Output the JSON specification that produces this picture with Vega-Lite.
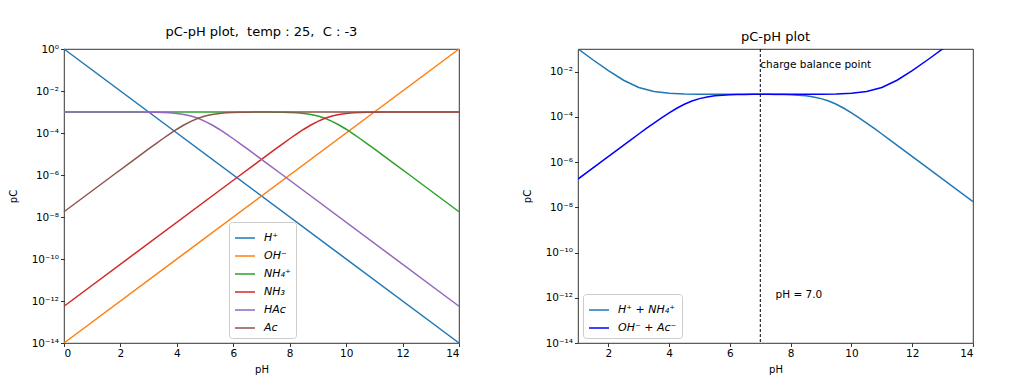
{
  "$schema": "https://vega.github.io/schema/vega-lite/v6.json",
  "background": "white",
  "padding": {"left": 7, "top": 25, "right": 5, "bottom": 5},
  "spacing": 58,
  "datasets": {
    "left": [
      {"pH": 0, "s": "H⁺", "c": 1}, {"pH": 14, "s": "H⁺", "c": 1e-14},
      {"pH": 0, "s": "OH⁻", "c": 1e-14}, {"pH": 14, "s": "OH⁻", "c": 1},
      {"pH": 0, "s": "NH₄⁺", "c": 1e-3}, {"pH": 6.25, "s": "NH₄⁺", "c": 9.990e-4}, {"pH": 6.75, "s": "NH₄⁺", "c": 9.968e-4}, {"pH": 7.25, "s": "NH₄⁺", "c": 9.901e-4}, {"pH": 7.5, "s": "NH₄⁺", "c": 9.825e-4}, {"pH": 7.75, "s": "NH₄⁺", "c": 9.693e-4}, {"pH": 8, "s": "NH₄⁺", "c": 9.468e-4}, {"pH": 8.25, "s": "NH₄⁺", "c": 9.091e-4}, {"pH": 8.5, "s": "NH₄⁺", "c": 8.500e-4}, {"pH": 8.75, "s": "NH₄⁺", "c": 7.597e-4}, {"pH": 9, "s": "NH₄⁺", "c": 6.401e-4}, {"pH": 9.25, "s": "NH₄⁺", "c": 5e-4}, {"pH": 9.5, "s": "NH₄⁺", "c": 3.599e-4}, {"pH": 9.75, "s": "NH₄⁺", "c": 2.403e-4}, {"pH": 10, "s": "NH₄⁺", "c": 1.510e-4}, {"pH": 10.25, "s": "NH₄⁺", "c": 9.091e-5}, {"pH": 10.5, "s": "NH₄⁺", "c": 5.324e-5}, {"pH": 10.75, "s": "NH₄⁺", "c": 3.065e-5}, {"pH": 11, "s": "NH₄⁺", "c": 1.747e-5}, {"pH": 11.25, "s": "NH₄⁺", "c": 9.901e-6}, {"pH": 11.75, "s": "NH₄⁺", "c": 3.152e-6}, {"pH": 12.25, "s": "NH₄⁺", "c": 9.990e-7}, {"pH": 14, "s": "NH₄⁺", "c": 1.778e-8},
      {"pH": 0, "s": "NH₃", "c": 5.623e-13}, {"pH": 6.25, "s": "NH₃", "c": 9.990e-7}, {"pH": 6.75, "s": "NH₃", "c": 3.152e-6}, {"pH": 7.25, "s": "NH₃", "c": 9.901e-6}, {"pH": 7.5, "s": "NH₃", "c": 1.747e-5}, {"pH": 7.75, "s": "NH₃", "c": 3.065e-5}, {"pH": 8, "s": "NH₃", "c": 5.324e-5}, {"pH": 8.25, "s": "NH₃", "c": 9.091e-5}, {"pH": 8.5, "s": "NH₃", "c": 1.510e-4}, {"pH": 8.75, "s": "NH₃", "c": 2.403e-4}, {"pH": 9, "s": "NH₃", "c": 3.599e-4}, {"pH": 9.25, "s": "NH₃", "c": 5e-4}, {"pH": 9.5, "s": "NH₃", "c": 6.401e-4}, {"pH": 9.75, "s": "NH₃", "c": 7.597e-4}, {"pH": 10, "s": "NH₃", "c": 8.500e-4}, {"pH": 10.25, "s": "NH₃", "c": 9.091e-4}, {"pH": 10.5, "s": "NH₃", "c": 9.468e-4}, {"pH": 10.75, "s": "NH₃", "c": 9.693e-4}, {"pH": 11, "s": "NH₃", "c": 9.825e-4}, {"pH": 11.25, "s": "NH₃", "c": 9.901e-4}, {"pH": 11.75, "s": "NH₃", "c": 9.968e-4}, {"pH": 12.25, "s": "NH₃", "c": 9.990e-4}, {"pH": 14, "s": "NH₃", "c": 1e-3},
      {"pH": 0, "s": "HAc", "c": 1e-3}, {"pH": 1.75, "s": "HAc", "c": 9.990e-4}, {"pH": 2.25, "s": "HAc", "c": 9.968e-4}, {"pH": 2.75, "s": "HAc", "c": 9.901e-4}, {"pH": 3, "s": "HAc", "c": 9.825e-4}, {"pH": 3.25, "s": "HAc", "c": 9.693e-4}, {"pH": 3.5, "s": "HAc", "c": 9.468e-4}, {"pH": 3.75, "s": "HAc", "c": 9.091e-4}, {"pH": 4, "s": "HAc", "c": 8.500e-4}, {"pH": 4.25, "s": "HAc", "c": 7.597e-4}, {"pH": 4.5, "s": "HAc", "c": 6.401e-4}, {"pH": 4.75, "s": "HAc", "c": 5e-4}, {"pH": 5, "s": "HAc", "c": 3.599e-4}, {"pH": 5.25, "s": "HAc", "c": 2.403e-4}, {"pH": 5.5, "s": "HAc", "c": 1.510e-4}, {"pH": 5.75, "s": "HAc", "c": 9.091e-5}, {"pH": 6, "s": "HAc", "c": 5.324e-5}, {"pH": 6.25, "s": "HAc", "c": 3.065e-5}, {"pH": 6.5, "s": "HAc", "c": 1.747e-5}, {"pH": 6.75, "s": "HAc", "c": 9.901e-6}, {"pH": 7.25, "s": "HAc", "c": 3.152e-6}, {"pH": 7.75, "s": "HAc", "c": 9.990e-7}, {"pH": 14, "s": "HAc", "c": 5.623e-13},
      {"pH": 0, "s": "Ac", "c": 1.778e-8}, {"pH": 1.75, "s": "Ac", "c": 9.990e-7}, {"pH": 2.25, "s": "Ac", "c": 3.152e-6}, {"pH": 2.75, "s": "Ac", "c": 9.901e-6}, {"pH": 3, "s": "Ac", "c": 1.747e-5}, {"pH": 3.25, "s": "Ac", "c": 3.065e-5}, {"pH": 3.5, "s": "Ac", "c": 5.324e-5}, {"pH": 3.75, "s": "Ac", "c": 9.091e-5}, {"pH": 4, "s": "Ac", "c": 1.510e-4}, {"pH": 4.25, "s": "Ac", "c": 2.403e-4}, {"pH": 4.5, "s": "Ac", "c": 3.599e-4}, {"pH": 4.75, "s": "Ac", "c": 5e-4}, {"pH": 5, "s": "Ac", "c": 6.401e-4}, {"pH": 5.25, "s": "Ac", "c": 7.597e-4}, {"pH": 5.5, "s": "Ac", "c": 8.500e-4}, {"pH": 5.75, "s": "Ac", "c": 9.091e-4}, {"pH": 6, "s": "Ac", "c": 9.468e-4}, {"pH": 6.25, "s": "Ac", "c": 9.693e-4}, {"pH": 6.5, "s": "Ac", "c": 9.825e-4}, {"pH": 6.75, "s": "Ac", "c": 9.901e-4}, {"pH": 7.25, "s": "Ac", "c": 9.968e-4}, {"pH": 7.75, "s": "Ac", "c": 9.990e-4}, {"pH": 14, "s": "Ac", "c": 1e-3}
    ],
    "right": [
      {"pH": 1, "s": "H⁺ + NH₄⁺", "c": 0.101}, {"pH": 1.5, "s": "H⁺ + NH₄⁺", "c": 0.03262}, {"pH": 2, "s": "H⁺ + NH₄⁺", "c": 0.011}, {"pH": 2.5, "s": "H⁺ + NH₄⁺", "c": 4.162e-3}, {"pH": 3, "s": "H⁺ + NH₄⁺", "c": 2e-3}, {"pH": 3.5, "s": "H⁺ + NH₄⁺", "c": 1.316e-3}, {"pH": 4, "s": "H⁺ + NH₄⁺", "c": 1.1e-3}, {"pH": 4.5, "s": "H⁺ + NH₄⁺", "c": 1.032e-3}, {"pH": 5, "s": "H⁺ + NH₄⁺", "c": 1.01e-3}, {"pH": 5.5, "s": "H⁺ + NH₄⁺", "c": 1.003e-3}, {"pH": 6.25, "s": "H⁺ + NH₄⁺", "c": 9.996e-4}, {"pH": 6.75, "s": "H⁺ + NH₄⁺", "c": 9.970e-4}, {"pH": 7.25, "s": "H⁺ + NH₄⁺", "c": 9.901e-4}, {"pH": 7.5, "s": "H⁺ + NH₄⁺", "c": 9.825e-4}, {"pH": 7.75, "s": "H⁺ + NH₄⁺", "c": 9.693e-4}, {"pH": 8, "s": "H⁺ + NH₄⁺", "c": 9.468e-4}, {"pH": 8.25, "s": "H⁺ + NH₄⁺", "c": 9.091e-4}, {"pH": 8.5, "s": "H⁺ + NH₄⁺", "c": 8.5e-4}, {"pH": 8.75, "s": "H⁺ + NH₄⁺", "c": 7.597e-4}, {"pH": 9, "s": "H⁺ + NH₄⁺", "c": 6.401e-4}, {"pH": 9.25, "s": "H⁺ + NH₄⁺", "c": 5e-4}, {"pH": 9.5, "s": "H⁺ + NH₄⁺", "c": 3.599e-4}, {"pH": 9.75, "s": "H⁺ + NH₄⁺", "c": 2.403e-4}, {"pH": 10, "s": "H⁺ + NH₄⁺", "c": 1.51e-4}, {"pH": 10.25, "s": "H⁺ + NH₄⁺", "c": 9.091e-5}, {"pH": 10.5, "s": "H⁺ + NH₄⁺", "c": 5.324e-5}, {"pH": 10.75, "s": "H⁺ + NH₄⁺", "c": 3.065e-5}, {"pH": 11, "s": "H⁺ + NH₄⁺", "c": 1.747e-5}, {"pH": 11.25, "s": "H⁺ + NH₄⁺", "c": 9.901e-6}, {"pH": 11.75, "s": "H⁺ + NH₄⁺", "c": 3.152e-6}, {"pH": 12.25, "s": "H⁺ + NH₄⁺", "c": 9.990e-7}, {"pH": 14, "s": "H⁺ + NH₄⁺", "c": 1.778e-8},
      {"pH": 1, "s": "OH⁻ + Ac⁻", "c": 1.778e-7}, {"pH": 1.75, "s": "OH⁻ + Ac⁻", "c": 9.990e-7}, {"pH": 2.25, "s": "OH⁻ + Ac⁻", "c": 3.152e-6}, {"pH": 2.75, "s": "OH⁻ + Ac⁻", "c": 9.901e-6}, {"pH": 3, "s": "OH⁻ + Ac⁻", "c": 1.747e-5}, {"pH": 3.25, "s": "OH⁻ + Ac⁻", "c": 3.065e-5}, {"pH": 3.5, "s": "OH⁻ + Ac⁻", "c": 5.324e-5}, {"pH": 3.75, "s": "OH⁻ + Ac⁻", "c": 9.091e-5}, {"pH": 4, "s": "OH⁻ + Ac⁻", "c": 1.51e-4}, {"pH": 4.25, "s": "OH⁻ + Ac⁻", "c": 2.403e-4}, {"pH": 4.5, "s": "OH⁻ + Ac⁻", "c": 3.599e-4}, {"pH": 4.75, "s": "OH⁻ + Ac⁻", "c": 5e-4}, {"pH": 5, "s": "OH⁻ + Ac⁻", "c": 6.401e-4}, {"pH": 5.25, "s": "OH⁻ + Ac⁻", "c": 7.597e-4}, {"pH": 5.5, "s": "OH⁻ + Ac⁻", "c": 8.5e-4}, {"pH": 5.75, "s": "OH⁻ + Ac⁻", "c": 9.091e-4}, {"pH": 6, "s": "OH⁻ + Ac⁻", "c": 9.468e-4}, {"pH": 6.25, "s": "OH⁻ + Ac⁻", "c": 9.693e-4}, {"pH": 6.5, "s": "OH⁻ + Ac⁻", "c": 9.825e-4}, {"pH": 6.75, "s": "OH⁻ + Ac⁻", "c": 9.901e-4}, {"pH": 7.25, "s": "OH⁻ + Ac⁻", "c": 9.968e-4}, {"pH": 7.75, "s": "OH⁻ + Ac⁻", "c": 9.990e-4}, {"pH": 8, "s": "OH⁻ + Ac⁻", "c": 1.0004e-3}, {"pH": 8.5, "s": "OH⁻ + Ac⁻", "c": 1.003e-3}, {"pH": 9, "s": "OH⁻ + Ac⁻", "c": 1.01e-3}, {"pH": 9.5, "s": "OH⁻ + Ac⁻", "c": 1.032e-3}, {"pH": 10, "s": "OH⁻ + Ac⁻", "c": 1.1e-3}, {"pH": 10.5, "s": "OH⁻ + Ac⁻", "c": 1.316e-3}, {"pH": 11, "s": "OH⁻ + Ac⁻", "c": 2e-3}, {"pH": 11.5, "s": "OH⁻ + Ac⁻", "c": 4.162e-3}, {"pH": 12, "s": "OH⁻ + Ac⁻", "c": 0.011}, {"pH": 12.5, "s": "OH⁻ + Ac⁻", "c": 0.03262}, {"pH": 13, "s": "OH⁻ + Ac⁻", "c": 0.101}, {"pH": 13.5, "s": "OH⁻ + Ac⁻", "c": 0.3172}, {"pH": 14, "s": "OH⁻ + Ac⁻", "c": 1.001}
    ],
    "balance": [{"pH": 7}],
    "notes": [
      {"pH": 7, "c": 0.014, "t": "charge balance point"},
      {"pH": 7.5, "c": 1e-12, "t": "pH = 7.0"}
    ]
  },
  "hconcat": [
    {
      "width": 395,
      "height": 294,
      "title": "pC-pH plot,\u00a0 temp : 25,\u00a0 C : -3",
      "data": {"name": "left"},
      "mark": {"type": "line", "strokeWidth": 1.5},
      "encoding": {
        "x": {"field": "pH", "type": "quantitative", "scale": {"domain": [0, 14], "nice": false, "zero": false},
              "axis": {"values": [0, 2, 4, 6, 8, 10, 12, 14], "title": "pH"}},
        "y": {"field": "c", "type": "quantitative", "scale": {"type": "log", "domain": [1e-14, 1], "nice": false},
              "axis": {"values": [1, 1e-2, 1e-4, 1e-6, 1e-8, 1e-10, 1e-12, 1e-14], "title": "pC",
                       "labelExpr": "'10' + (datum.value < 0.5 ? '⁻' : '') + ['⁰','¹','²','³','⁴','⁵','⁶','⁷','⁸','⁹','¹⁰','¹¹','¹²','¹³','¹⁴'][abs(round(log(datum.value)/LN10))]"}},
        "color": {"field": "s", "type": "nominal",
                  "scale": {"domain": ["H⁺", "OH⁻", "NH₄⁺", "NH₃", "HAc", "Ac"], "range": ["#1f77b4", "#ff7f0e", "#2ca02c", "#d62728", "#9467bd", "#8c564b"]},
                  "legend": {"title": null, "orient": "none", "legendX": 165, "legendY": 173}}
      }
    },
    {
      "width": 395,
      "height": 294,
      "title": "pC-pH plot",
      "layer": [
        {
          "data": {"name": "right"},
          "mark": {"type": "line", "strokeWidth": 1.5, "clip": true},
          "encoding": {
            "x": {"field": "pH", "type": "quantitative", "scale": {"domain": [1, 14], "nice": false, "zero": false},
                  "axis": {"values": [2, 4, 6, 8, 10, 12, 14], "title": "pH"}},
            "y": {"field": "c", "type": "quantitative", "scale": {"type": "log", "domain": [1e-14, 0.1], "nice": false},
                  "axis": {"values": [1e-2, 1e-4, 1e-6, 1e-8, 1e-10, 1e-12, 1e-14], "title": "pC",
                           "labelExpr": "'10' + (datum.value < 0.5 ? '⁻' : '') + ['⁰','¹','²','³','⁴','⁵','⁶','⁷','⁸','⁹','¹⁰','¹¹','¹²','¹³','¹⁴'][abs(round(log(datum.value)/LN10))]"}},
            "color": {"field": "s", "type": "nominal",
                      "scale": {"domain": ["H⁺ + NH₄⁺", "OH⁻ + Ac⁻"], "range": ["#1f77b4", "#0000ff"]},
                      "legend": {"title": null, "orient": "none", "legendX": 5, "legendY": 245}}
          }
        },
        {
          "data": {"name": "balance"},
          "mark": {"type": "rule", "color": "black", "strokeWidth": 1, "strokeDash": [3, 2]},
          "encoding": {"x": {"field": "pH", "type": "quantitative"}}
        },
        {
          "data": {"name": "notes"},
          "mark": {"type": "text", "align": "left", "baseline": "alphabetic", "fontSize": 10.5, "color": "#000"},
          "encoding": {
            "x": {"field": "pH", "type": "quantitative"},
            "y": {"field": "c", "type": "quantitative"},
            "text": {"field": "t"}
          }
        }
      ]
    }
  ],
  "resolve": {"scale": {"x": "independent", "y": "independent", "color": "independent"}, "legend": {"color": "independent"}},
  "config": {
    "font": "DejaVu Sans",
    "view": {"stroke": "#000", "strokeWidth": 0.8},
    "axis": {"domain": false, "grid": false, "tickColor": "#000", "tickSize": 3.5, "tickWidth": 0.8,
             "labelFontSize": 10.5, "labelColor": "#000", "labelPadding": 2, "titleFontSize": 10,
             "titleFontWeight": "normal", "titleColor": "#000", "titlePadding": 5},
    "axisY": {"titlePadding": 13},
    "title": {"fontSize": 13, "fontWeight": "normal", "color": "#000", "offset": 5},
    "legend": {"symbolType": "stroke", "symbolSize": 400, "symbolStrokeWidth": 1.5, "labelFontSize": 11,
               "labelFontStyle": "italic", "labelColor": "#000", "labelOffset": 8, "rowPadding": 2,
               "padding": 5, "strokeColor": "#cccccc", "fillColor": "white", "cornerRadius": 3}
  }
}
